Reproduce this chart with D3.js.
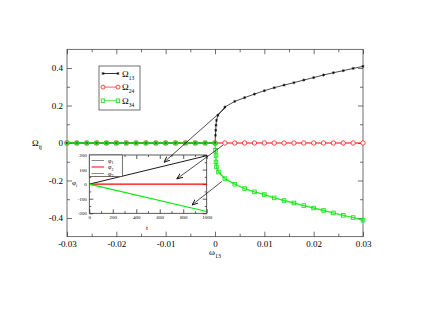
<!DOCTYPE html>
<html>
<head>
<meta charset="utf-8">
<script src="https://cdn.jsdelivr.net/npm/d3@7"></script>
<style>
  body { margin: 0; background: #fff; }
  svg { font-family: "Liberation Serif", "Times New Roman", serif; }
</style>
</head>
<body>
<div id="chart"></div>
<script>
// omega_13 grid and the three order parameters
var omega = [-0.03, -0.028, -0.026, -0.024, -0.022, -0.02, -0.018, -0.016, -0.014, -0.012, -0.01, -0.008,
  -0.006, -0.004, -0.002, 0, 0.002, 0.004, 0.006, 0.008, 0.01, 0.012, 0.014, 0.016, 0.018, 0.02,
  0.022, 0.024, 0.026, 0.028, 0.03];
var omega13 = [-0.03, -0.028, -0.026, -0.024, -0.022, -0.02, -0.018, -0.016, -0.014, -0.012, -0.01, -0.008,
  -0.006, -0.004, -0.002, 0, 0.0001, 0.00015, 0.0002, 0.0003, 0.0006, 0.002, 0.004, 0.006, 0.008, 0.01,
  0.012, 0.014, 0.016, 0.018, 0.02, 0.022, 0.024, 0.026, 0.028, 0.03];
var omega13Vals = [0, 0, 0, 0, 0, 0, 0, 0, 0, 0, 0, 0, 0, 0, 0, 0, 0.041, 0.068, 0.095, 0.121, 0.148,
  0.192, 0.222, 0.242, 0.261, 0.279, 0.295, 0.309, 0.322, 0.336, 0.349, 0.363, 0.375, 0.386, 0.398, 0.409];
var omega24Vals = [0, 0, 0, 0, 0, 0, 0, 0, 0, 0, 0, 0, 0, 0, 0, 0, 0, 0, 0, 0, 0, 0, 0, 0, 0, 0, 0, 0, 0, 0, 0];
var omega34 = [-0.03, -0.028, -0.026, -0.024, -0.022, -0.02, -0.018, -0.016, -0.014, -0.012, -0.01, -0.008,
  -0.006, -0.004, -0.002, 0, 0.0001, 0.0002, 0.0002, 0.0003, 0.0007, 0.002, 0.004, 0.006, 0.008, 0.01,
  0.012, 0.014, 0.016, 0.018, 0.02, 0.022, 0.024, 0.026, 0.028, 0.03];
var omega34Vals = [0, 0, 0, 0, 0, 0, 0, 0, 0, 0, 0, 0, 0, 0, 0, 0, -0.039, -0.066, -0.101, -0.128, -0.155,
  -0.19, -0.22, -0.243, -0.261, -0.275, -0.293, -0.307, -0.32, -0.334, -0.347, -0.36, -0.373, -0.386, -0.398, -0.412];

var xTicks = [-0.03, -0.02, -0.01, 0, 0.01, 0.02, 0.03];
var xTickLabels = ['-0.03', '-0.02', '-0.01', '0', '0.01', '0.02', '0.03'];
var yTicks = [-0.4, -0.2, 0, 0.2, 0.4];
var yTickLabels = ['-0.4', '-0.2', '0', '0.2', '0.4'];

// inset: phases vs time
var tVals = [0, 1000];
var phi1 = [0, 195];
var phi2 = [0, 0];
var phi3 = [0, -188];
var insetXTicks = [0, 200, 400, 600, 800, 1000];
var insetYTicks = [-200, -100, 0, 100, 200];

// arrows: from main-plot point to inset point
var arrows = [
  { w: 0.0022, o: 0.19, t: 636, p: 150 },
  { w: 0.0016, o: -0.012, t: 745, p: 36 },
  { w: 0.0014, o: -0.205, t: 874, p: -143 }
];

var width = 430, height = 332;
var svg = d3.select('#chart').append('svg')
  .attr('width', width).attr('height', height)
  .attr('viewBox', '0 0 ' + width + ' ' + height);

var x = d3.scaleLinear().domain([-0.03, 0.03]).range([67, 363]);
var y = d3.scaleLinear().domain([-0.5, 0.5]).range([236.7, 49.3]);

function drawFrame(g, sx, sy, opt) {
  var x0 = sx.range()[0], x1 = sx.range()[1], y0 = sy.range()[0], y1 = sy.range()[1];
  g.append('rect').attr('x', x0).attr('y', y1).attr('width', x1 - x0).attr('height', y0 - y1)
    .attr('fill', opt.fill || 'none').attr('stroke', '#333').attr('stroke-width', opt.frameW);
  var bottom = d3.axisBottom(sx).tickValues(opt.xt).tickSize(-opt.major).tickPadding(opt.pad)
    .tickFormat(function (d, i) { return opt.xl[i]; });
  var left = d3.axisLeft(sy).tickValues(opt.yt).tickSize(-opt.major).tickPadding(opt.pad)
    .tickFormat(function (d, i) { return opt.yl[i]; });
  var gb = g.append('g').attr('transform', 'translate(0,' + y0 + ')').call(bottom);
  var gl = g.append('g').attr('transform', 'translate(' + x0 + ',0)').call(left);
  g.append('g').attr('transform', 'translate(0,' + y1 + ')')
    .call(d3.axisTop(sx).tickValues(opt.xt).tickSize(-opt.major).tickFormat(''));
  g.append('g').attr('transform', 'translate(' + x1 + ',0)')
    .call(d3.axisRight(sy).tickValues(opt.yt).tickSize(-opt.major).tickFormat(''));
  g.append('g').attr('transform', 'translate(0,' + y0 + ')')
    .call(d3.axisBottom(sx).tickValues(opt.xm).tickSize(-opt.minor).tickFormat(''));
  g.append('g').attr('transform', 'translate(0,' + y1 + ')')
    .call(d3.axisTop(sx).tickValues(opt.xm).tickSize(-opt.minor).tickFormat(''));
  g.append('g').attr('transform', 'translate(' + x0 + ',0)')
    .call(d3.axisLeft(sy).tickValues(opt.ym).tickSize(-opt.minor).tickFormat(''));
  g.append('g').attr('transform', 'translate(' + x1 + ',0)')
    .call(d3.axisRight(sy).tickValues(opt.ym).tickSize(-opt.minor).tickFormat(''));
  g.selectAll('.domain').remove();
  g.selectAll('.tick line').attr('stroke', '#333').attr('stroke-width', opt.frameW);
  gb.selectAll('text').attr('font-size', opt.fs).attr('font-family', 'Liberation Serif').attr('fill', '#000');
  gl.selectAll('text').attr('font-size', opt.fs).attr('font-family', 'Liberation Serif').attr('fill', '#000');
}

drawFrame(svg.append('g'), x, y, {
  xt: xTicks, xl: xTickLabels, yt: yTicks, yl: yTickLabels,
  xm: [-0.025, -0.015, -0.005, 0.005, 0.015, 0.025], ym: [-0.3, -0.1, 0.1, 0.3],
  major: 5, minor: 3, pad: 4, fs: 9, frameW: 0.7
});

var line = d3.line().x(function (d) { return x(d[0]); }).y(function (d) { return y(d[1]); });
var s13 = d3.zip(omega13, omega13Vals);
var s24 = d3.zip(omega, omega24Vals);
var s34 = d3.zip(omega34, omega34Vals);

// red
svg.append('path').attr('d', line(s24)).attr('fill', 'none').attr('stroke', '#ff0000')
  .attr('stroke-opacity', 0.5).attr('stroke-width', 2);
svg.selectAll('.c24').data(s24).enter().append('circle')
  .attr('cx', function (d) { return x(d[0]); }).attr('cy', function (d) { return y(d[1]); })
  .attr('r', 2.2).attr('fill', '#fff').attr('stroke', '#ff3030').attr('stroke-width', 0.9);

// black
svg.append('path').attr('d', line(s13)).attr('fill', 'none').attr('stroke', '#000').attr('stroke-width', 0.7);
var star = d3.symbol().type(d3.symbolAsterisk).size(6);
svg.selectAll('.c13').data(s13).enter().append('path')
  .attr('transform', function (d) { return 'translate(' + x(d[0]) + ',' + y(d[1]) + ')'; })
  .attr('d', star).attr('fill', 'none').attr('stroke', '#000').attr('stroke-width', 0.7);

// green
svg.append('path').attr('d', line(s34)).attr('fill', 'none').attr('stroke', '#00ee00').attr('stroke-width', 1.4)
  .attr('stroke-opacity', 0.85);
svg.selectAll('.c34').data(s34).enter().append('rect')
  .attr('x', function (d) { return x(d[0]) - 1.8; }).attr('y', function (d) { return y(d[1]) - 1.8; })
  .attr('width', 3.6).attr('height', 3.6).attr('fill', 'none').attr('stroke', '#22dd22').attr('stroke-width', 0.9);

// axis titles
var yt = svg.append('text').attr('x', 32).attr('y', 146).attr('font-size', 9).attr('fill', '#000');
yt.append('tspan').text('Ω');
yt.append('tspan').attr('font-size', 6).attr('dy', 3).text('ij');
var xtl = svg.append('text').attr('x', 209).attr('y', 255).attr('font-size', 9).attr('fill', '#000');
xtl.append('tspan').text('ω');
xtl.append('tspan').attr('font-size', 6).attr('dy', 3).text('13');

// legend
var leg = svg.append('g');
leg.append('rect').attr('x', 99).attr('y', 66).attr('width', 41).attr('height', 44)
  .attr('fill', '#fff').attr('stroke', '#333').attr('stroke-width', 0.7);
var legItems = [
  { name: '13', color: '#000', kind: 'star' },
  { name: '24', color: '#ff3030', kind: 'circle' },
  { name: '34', color: '#22dd22', kind: 'square' }
];
legItems.forEach(function (it, i) {
  var ly = 73.5 + i * 13.6;
  leg.append('line').attr('x1', 103).attr('x2', 118).attr('y1', ly).attr('y2', ly)
    .attr('stroke', it.color).attr('stroke-width', 0.8);
  [103, 118].forEach(function (lx) {
    if (it.kind === 'star') {
      leg.append('path').attr('transform', 'translate(' + lx + ',' + ly + ')').attr('d', star)
        .attr('fill', 'none').attr('stroke', '#000').attr('stroke-width', 0.7);
    } else if (it.kind === 'circle') {
      leg.append('circle').attr('cx', lx).attr('cy', ly).attr('r', 2).attr('fill', '#fff')
        .attr('stroke', it.color).attr('stroke-width', 0.9);
    } else {
      leg.append('rect').attr('x', lx - 1.7).attr('y', ly - 1.7).attr('width', 3.4).attr('height', 3.4)
        .attr('fill', '#fff').attr('stroke', it.color).attr('stroke-width', 0.9);
    }
  });
  var t = leg.append('text').attr('x', 122).attr('y', ly + 3).attr('font-size', 9).attr('fill', '#000');
  t.append('tspan').text('Ω');
  t.append('tspan').attr('font-size', 5.5).attr('dy', 3).text(it.name);
});

// inset
var ix = d3.scaleLinear().domain([0, 1000]).range([89.3, 206.7]);
var iy = d3.scaleLinear().domain([-200, 200]).range([213.3, 155]);
var inset = svg.append('g');
inset.append('rect').attr('x', 89.3).attr('y', 155).attr('width', 117.4).attr('height', 58.3).attr('fill', '#fff');
drawFrame(inset, ix, iy, {
  xt: insetXTicks, xl: insetXTicks.map(String), yt: insetYTicks, yl: insetYTicks.map(String),
  xm: [100, 300, 500, 700, 900], ym: [-150, -50, 50, 150],
  major: 4, minor: 2, pad: 2.5, fs: 5, frameW: 0.8
});
var iline = d3.line().x(function (d) { return ix(d[0]); }).y(function (d) { return iy(d[1]); });
[[phi1, '#000', 0.9], [phi2, '#ff0000', 1.4], [phi3, '#00ee00', 1.1]].forEach(function (s) {
  inset.append('path').attr('d', iline(d3.zip(tVals, s[0]))).attr('fill', 'none')
    .attr('stroke', s[1]).attr('stroke-width', s[2]);
});
// inset legend
inset.append('rect').attr('x', 89.3).attr('y', 155).attr('width', 33).attr('height', 21.5)
  .attr('fill', '#fff').attr('stroke', '#333').attr('stroke-width', 0.7);
[['1', '#888'], ['2', '#ff0000'], ['3', '#00ee00']].forEach(function (it, i) {
  var ly = 160.5 + i * 6.5;
  inset.append('line').attr('x1', 91.5).attr('x2', 104).attr('y1', ly).attr('y2', ly)
    .attr('stroke', it[1]).attr('stroke-width', 1);
  var t = inset.append('text').attr('x', 108).attr('y', ly + 2).attr('font-size', 6).attr('fill', '#000');
  t.append('tspan').text('φ');
  t.append('tspan').attr('font-size', 4).attr('dy', 1.5).text(it[0]);
});
inset.append('text').attr('x', 146).attr('y', 230).attr('font-size', 7).attr('fill', '#000').text('t');
var ity = inset.append('text').attr('x', 72).attr('y', 185).attr('font-size', 7).attr('fill', '#000');
ity.append('tspan').text('φ');
ity.append('tspan').attr('font-size', 4.5).attr('dy', 2).text('i');

// arrows
svg.append('defs').append('marker').attr('id', 'ah').attr('viewBox', '0 0 10 10')
  .attr('refX', 10).attr('refY', 5).attr('markerWidth', 6).attr('markerHeight', 6)
  .attr('markerUnits', 'userSpaceOnUse').attr('orient', 'auto')
  .append('path').attr('d', 'M0,1 L10,5 L0,9').attr('fill', 'none').attr('stroke', '#000').attr('stroke-width', 1.4);
svg.selectAll('.arr').data(arrows).enter().append('line')
  .attr('x1', function (d) { return x(d.w); }).attr('y1', function (d) { return y(d.o); })
  .attr('x2', function (d) { return ix(d.t); }).attr('y2', function (d) { return iy(d.p); })
  .attr('stroke', '#000').attr('stroke-width', 0.7).attr('marker-end', 'url(#ah)');
</script>
</body>
</html>
